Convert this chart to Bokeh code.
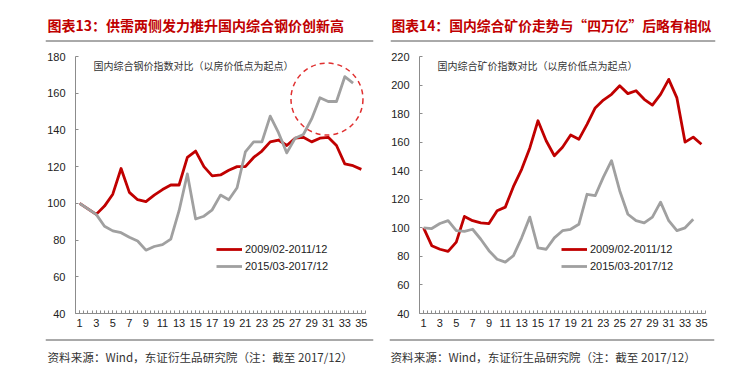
from bokeh.plotting import figure
from bokeh.layouts import row, column
from bokeh.models import Label, Span, Legend, LegendItem, FixedTicker, Range1d
from bokeh.embed import file_html
from bokeh.resources import INLINE

# ---------------- data ----------------
months_2009 = list(range(1, 36))
months_2015 = list(range(1, 35))

steel_2009 = [100, 97, 94, 98.5, 105, 119, 106, 102, 101, 104.5, 107.5, 110, 110,
              125, 128.5, 120, 115, 115.5, 118, 120, 120, 125, 128.5, 133.5, 134.5,
              131.5, 135.5, 136, 133.5, 135.5, 136, 131.5, 121.5, 120.5, 118.5]
steel_2015 = [100, 97, 94, 87.5, 85, 84, 81.5, 79.5, 74.5, 76.5, 77.5, 80.5, 96,
              116, 91.5, 93, 96.5, 104.5, 102, 108.5, 128, 133.5, 133.5, 147.5,
              138.5, 127.5, 135.5, 137.5, 146, 157.5, 155.5, 155.5, 169, 165.5]

ore_2009 = [100, 87.5, 85, 83.5, 90, 108, 105, 103.5, 103, 112, 114.5, 129, 141,
            156, 175, 161, 150.5, 156.5, 165, 162, 172.5, 184, 189.5, 193.5, 199.5,
            194, 196, 190, 186, 193.5, 204, 191, 160, 163.5, 158.5]
ore_2015 = [100, 99.5, 103, 105, 98, 97.5, 99, 92, 84, 78, 76, 80.5, 93, 107.5,
            86, 85, 93, 98, 99, 102.5, 123.5, 122.5, 135.5, 147, 126, 109.5, 105,
            103.5, 107.5, 118, 105, 98, 100, 106]

x_tick_labels = list(range(1, 36, 2))
steel_y_ticks = list(range(40, 181, 20))
ore_y_ticks = list(range(40, 221, 20))

legend_labels = ["2009/02-2011/12", "2015/03-2017/12"]
titles = ["图表13：供需两侧发力推升国内综合钢价创新高",
          "图表14：国内综合矿价走势与“四万亿”后略有相似"]
subtitles = ["国内综合钢价指数对比（以房价低点为起点）",
             "国内综合矿价指数对比（以房价低点为起点）"]
footer_text = "资料来源：Wind，东证衍生品研究院（注：截至 2017/12）"

highlight_month = [30.85]
highlight_value = [156.8]

# ---------------- style ----------------
RED = "#C00000"
GRAY = "#A0A0A0"
CJK = "Noto Sans CJK SC"
LATIN = "Liberation Sans"
AXIS = "#8C8C8C"
RULE = "#555555"


def strip(width, y_top, y_bottom, bl, br, text, text_y, text_x, rule_y, size, color, bold):
    s = figure(width=width, height=y_bottom - y_top, output_backend="svg",
               toolbar_location=None, x_range=Range1d(0, 1),
               y_range=Range1d(y_bottom, y_top),
               x_axis_location=None, y_axis_location=None,
               min_border_left=bl, min_border_right=br,
               min_border_top=0, min_border_bottom=0)
    s.outline_line_color = None
    s.xgrid.visible = False
    s.ygrid.visible = False
    s.background_fill_color = "white"
    s.border_fill_color = "white"
    s.add_layout(Span(location=rule_y, dimension="width", line_color=RULE, line_width=1))
    s.add_layout(Label(x=text_x, y=text_y, x_units="screen", y_units="data", text=text,
                       text_font=CJK, text_font_size=size,
                       text_font_style="bold" if bold else "normal",
                       text_color=color, text_baseline="middle"))
    return s


def make_chart(y_lo, y_hi, y_ticks, s1, s2, subtitle, bl, br, legend_x):
    p = figure(width=377, height=288, output_backend="svg", toolbar_location=None,
               x_range=Range1d(0.5, 35.5), y_range=Range1d(y_lo, y_hi),
               min_border_left=bl, min_border_right=br,
               min_border_top=8, min_border_bottom=23)
    p.outline_line_color = None
    p.xgrid.visible = False
    p.ygrid.visible = False
    p.background_fill_color = "white"
    p.border_fill_color = "white"

    for ax in (p.xaxis[0], p.yaxis[0]):
        ax.axis_line_color = AXIS
        ax.major_tick_line_color = AXIS
        ax.minor_tick_line_color = AXIS
        ax.major_tick_in = 3
        ax.major_tick_out = 0
        ax.minor_tick_in = 3
        ax.minor_tick_out = 0
        ax.major_label_text_font = LATIN
        ax.major_label_text_font_size = "11px"
        ax.major_label_text_color = "#222222"

    p.xaxis.ticker = FixedTicker(ticks=x_tick_labels,
                                 minor_ticks=[i / 2 for i in range(1, 72)])
    p.xaxis.major_label_standoff = 5
    p.yaxis.ticker = FixedTicker(ticks=y_ticks, minor_ticks=[])
    p.yaxis.major_label_standoff = 10

    r1 = p.line(months_2009, s1, line_color=RED, line_width=2.8, line_join="round")
    r2 = p.line(months_2015, s2, line_color=GRAY, line_width=2.8, line_join="round")

    legend = Legend(items=[LegendItem(label=legend_labels[0], renderers=[r1]),
                           LegendItem(label=legend_labels[1], renderers=[r2])],
                    location=(legend_x, 40))
    legend.border_line_color = None
    legend.background_fill_alpha = 0
    legend.padding = 0
    legend.margin = 0
    legend.spacing = 3
    legend.glyph_width = 26
    legend.glyph_height = 14
    legend.label_height = 14
    legend.label_standoff = 3
    legend.label_text_font = LATIN
    legend.label_text_font_size = "11px"
    legend.label_text_color = "#222222"
    p.add_layout(legend)

    p.add_layout(Label(x=18, y=248, x_units="screen", y_units="screen", text=subtitle,
                       text_font=CJK, text_font_size="10px",
                       text_color="#333333", text_baseline="middle"))
    return p


p1 = make_chart(40, 180, steel_y_ticks, steel_2009, steel_2015, subtitles[0], 75, 12, 141)
p1.scatter(highlight_month, highlight_value, size=72, marker="circle",
           fill_alpha=0, line_color="#E03030", line_width=1.5, line_dash="5 4")
p2 = make_chart(40, 220, ore_y_ticks, ore_2009, ore_2015, subtitles[1], 42, 49, 142)

h1 = strip(377, 0, 48, 45, 4, titles[0], 24, 2, 40.5, "14px", RED, True)
h2 = strip(377, 0, 48, 13, 39, titles[1], 24, 1, 40.5, "13.8px", RED, True)
f1 = strip(377, 336, 389, 45, 4, footer_text, 356.5, 2, 339.5, "11.6px", "#333333", False)
f2 = strip(377, 336, 389, 12, 40, footer_text, 356.5, 1, 339.5, "11.6px", "#333333", False)

layout = column(row(h1, h2, spacing=0), row(p1, p2, spacing=0), row(f1, f2, spacing=0),
                spacing=0)
open("out.html", "w").write(file_html(layout, INLINE))
